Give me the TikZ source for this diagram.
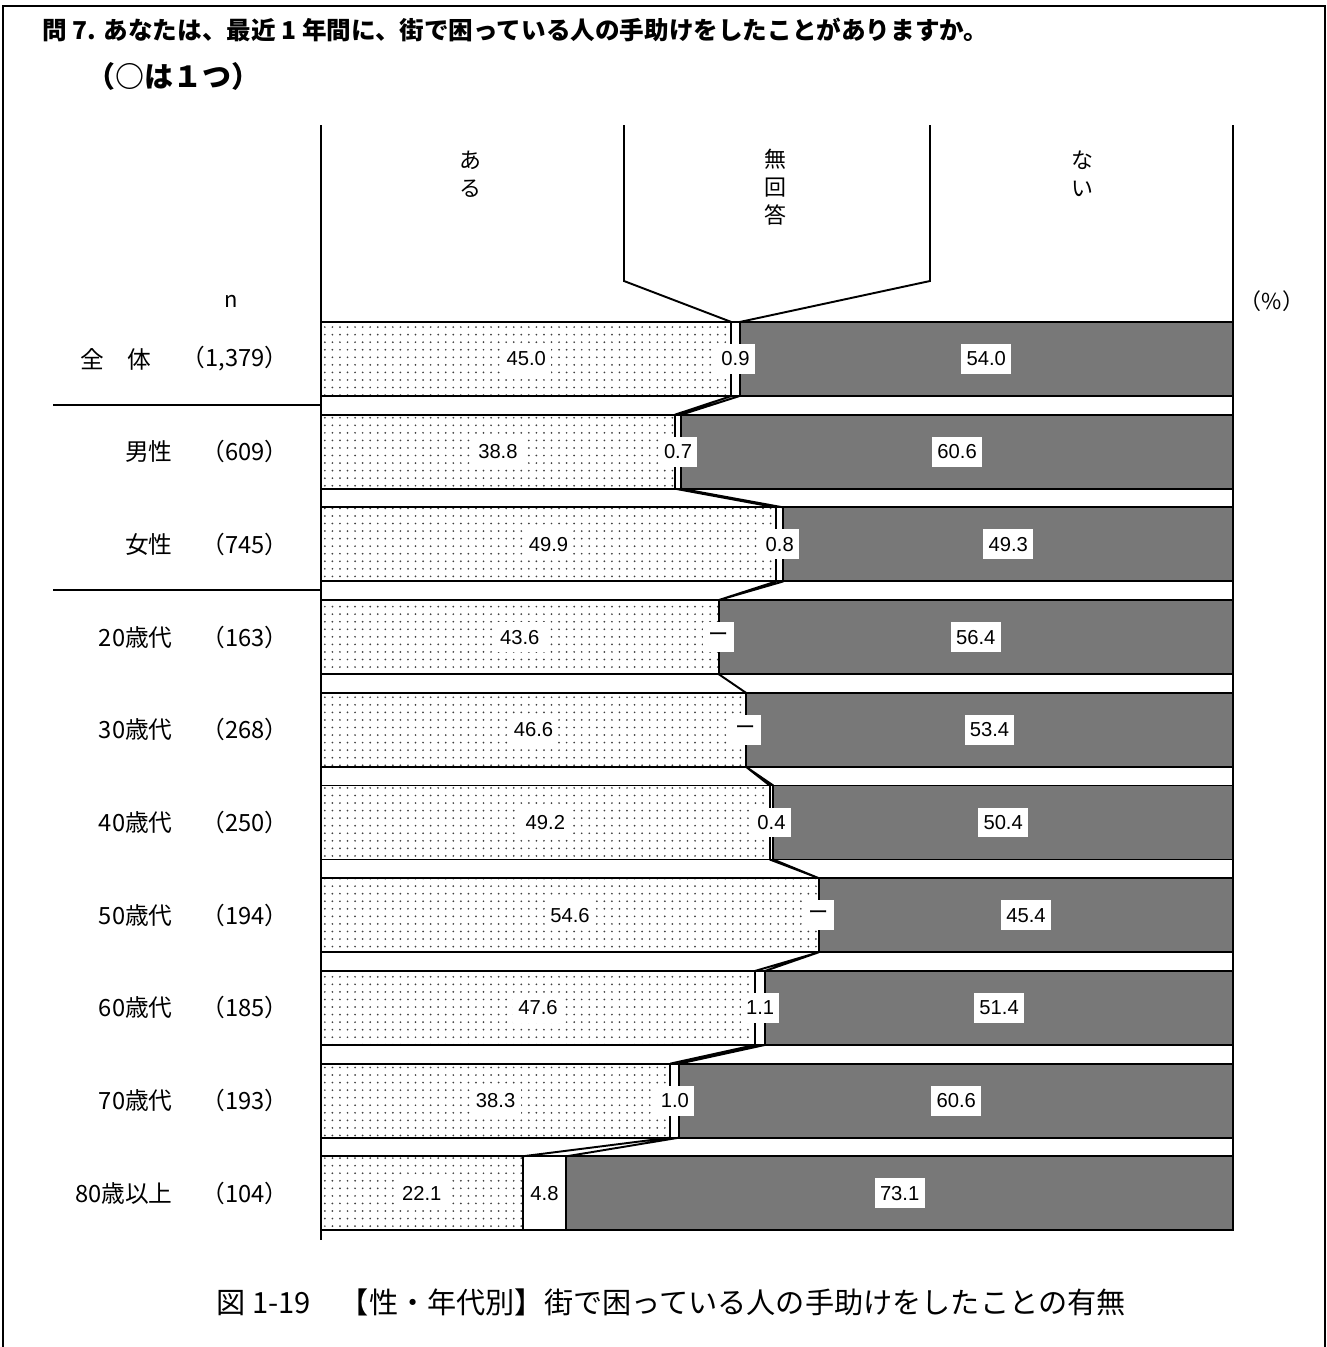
\documentclass[tikz,border=0pt]{standalone}
\usepackage{fontspec}
\setmainfont{Noto Sans CJK JP}
\newfontfamily\numfont{Liberation Sans}
\usepackage{xcolor}
\colorlet{DOTCOLOR}{black!75}
\colorlet{NAICOLOR}{black!53}
\usetikzlibrary{positioning,calc,patterns.meta}
\tikzset{
  bar-style/.style = {
    draw, line width=1.1pt
  },
  aru-style/.style = {
    bar-style,
    pattern={Dots[radius=0.55pt,distance=4.3pt]},
    pattern color=DOTCOLOR
  },
  mu-style/.style = {
    bar-style, fill=white
  },
  nai-style/.style = {
    bar-style, fill=NAICOLOR
  },
  val-style/.style = {
    fill=white, inner sep=3pt, minimum height=17pt,
    font=\numfont\fontsize{11.5}{13}\selectfont
  },
  row-style/.style = {
    anchor=east, inner sep=0pt,
    font=\fontsize{13.5}{15}\selectfont
  },
  head-style/.style = {
    align=center, inner sep=0pt,
    font=\fontsize{12.5}{15.9}\selectfont
  },
  title-style/.style = {
    anchor=west, inner sep=0pt,
    font=\bfseries\fontsize{14}{16}\selectfont
  },
  cap-style/.style = {
    inner sep=0pt, font=\fontsize{16.6}{18}\selectfont
  },
  link-style/.style = {line width=1.1pt},
  axis-style/.style = {line width=1.6pt},
  frame-style/.style = {line width=1.6pt}
}

\begin{document}
\begin{tikzpicture}[x=0.02cm,y=-0.02cm]
  \useasboundingbox (0,0) rectangle (1327,1347);
  %%% frame
  \draw[frame-style] (3,1347) -- (3,6) -- (1325,6) -- (1325,1347);

  %%% title
  \node[title-style] (title1) at (42,30) {問 7. あなたは、最近 1 年間に、街で困っている人の手助けをしたことがありますか。};
  \node[title-style,font=\bfseries\fontsize{16.5}{18}\selectfont] (title2) at (86,76) {（○は１つ）};

  %%% bars
  \foreach \lab/\lx/\n/\a/\b/\tb/\c [count=\i] in {
    全　体/152/{1,379}/45.0/0.9/0.9/54.0,
    男性/173/609/38.8/0.7/0.7/60.6,
    女性/173/745/49.9/0.8/0.8/49.3,
    20歳代/173/163/43.6/0/{\rmfamily ー}/56.4,
    30歳代/173/268/46.6/0/{\rmfamily ー}/53.4,
    40歳代/173/250/49.2/0.4/0.4/50.4,
    50歳代/173/194/54.6/0/{\rmfamily ー}/45.4,
    60歳代/173/185/47.6/1.1/1.1/51.4,
    70歳代/173/193/38.3/1.0/1.0/60.6,
    80歳以上/173/104/22.1/4.8/4.8/73.1%
  }{
    \pgfmathsetmacro\yt{322+(\i-1)*92.7}
    \pgfmathsetmacro\yb{\yt+74}
    \pgfmathsetmacro\ym{\yt+37}
    \pgfmathsetmacro\xa{321+9.12*\a}
    \pgfmathsetmacro\xb{321+9.12*(\a+\b)}
    \coordinate (ta\i) at (\xa,\yt);
    \coordinate (tb\i) at (\xb,\yt);
    \coordinate (ba\i) at (\xa,\yb);
    \coordinate (bb\i) at (\xb,\yb);
    \path[aru-style] (321,\yt) rectangle (ba\i);
    \path[mu-style] (ta\i) rectangle (bb\i);
    \path[nai-style] (tb\i) rectangle (1233,\yb);
    \node[val-style] (va\i) at ({(321+\xa)/2},\ym) {\a};
    \node[val-style] (vb\i) at ({(\xa+\xb)/2},\ym) {\tb};
    \node[val-style] (vc\i) at ({(\xb+1233)/2},\ym) {\c};
    \node[row-style] (g\i) at (\lx,\ym) {\lab};
    \node[row-style] (n\i) at (289,\ym) {（\n）};
  }

  %%% links between bars
  \foreach \i [evaluate=\i as \j using int(\i+1)] in {1,...,8,9}
    \draw[link-style] (ba\i) -- (ta\j) (bb\i) -- (tb\j);

  %%% axis and header
  \coordinate (axTop) at (321,125);
  \coordinate (axBot) at (321,1240);
  \coordinate (rtTop) at (1233,125);
  \coordinate (rtBot) at (1233,1230);
  \coordinate (muL) at (624,125);
  \coordinate (muLb) at (624,281);
  \coordinate (muR) at (930,125);
  \coordinate (muRb) at (930,281);
  \draw[axis-style] (axTop) -- (axBot);
  \draw[link-style] (rtTop) -- (rtBot);
  \draw[link-style] (muL) -- (muLb) -- (ta1);
  \draw[link-style] (muR) -- (muRb) -- (tb1);
  \node[head-style] (hAru) at (470,174) {あ\\る};
  \node[head-style] (hMu) at (775,187) {無\\回\\答};
  \node[head-style] (hNai) at (1082,174) {な\\い};
  \node[head-style] (hN) at (231,301) {n};
  \node[head-style] (hPct) at (1272,301) {（\%）};

  %%% group separators
  \coordinate (sep1) at (53,405);
  \coordinate (sep2) at (53,590);
  \draw[link-style] (sep1) -- (sep1 -| axTop);
  \draw[link-style] (sep2) -- (sep2 -| axTop);

  %%% caption
  \node[cap-style] (caption) at (671,1302) {図 1-19　【性・年代別】街で困っている人の手助けをしたことの有無};
\end{tikzpicture}
\end{document}
